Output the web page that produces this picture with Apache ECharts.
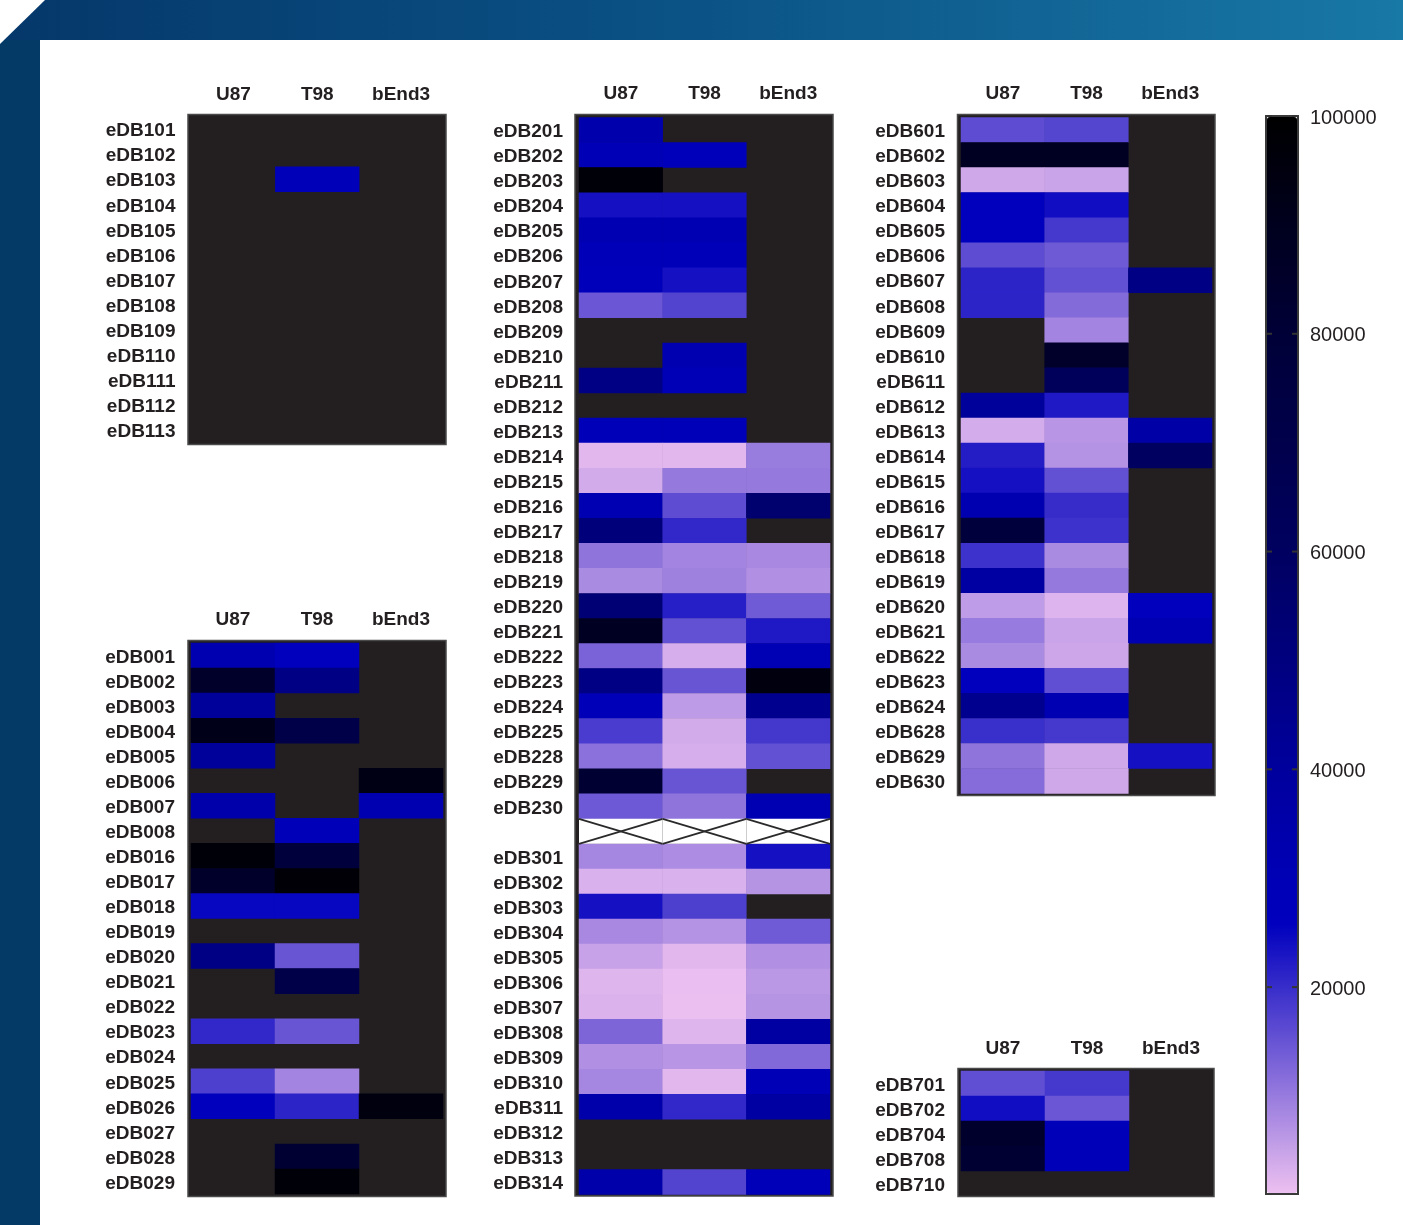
<!DOCTYPE html>
<html>
<head>
<meta charset="utf-8">
<title>eDB heatmap</title>
<script src="https://cdn.jsdelivr.net/npm/echarts@6/dist/echarts.min.js"></script>
<style>
  html, body { margin: 0; padding: 0; background: #fff; }
  #main { width: 1403px; height: 1225px; }
</style>
</head>
<body>
<div id="main"></div>
<script>
// columns of every panel
const cellLines = ["U87", "T98", "bEnd3"];

// panel eDB1xx
const rows1xx = ["eDB101", "eDB102", "eDB103", "eDB104", "eDB105", "eDB106", "eDB107",
  "eDB108", "eDB109", "eDB110", "eDB111", "eDB112", "eDB113"];
const values1xx = [
  [null, null, null], [null, null, null], [null, 28000, null], [null, null, null],
  [null, null, null], [null, null, null], [null, null, null], [null, null, null],
  [null, null, null], [null, null, null], [null, null, null], [null, null, null],
  [null, null, null],
];

// panel eDB0xx
const rows0xx = ["eDB001", "eDB002", "eDB003", "eDB004", "eDB005", "eDB006", "eDB007",
  "eDB008", "eDB016", "eDB017", "eDB018", "eDB019", "eDB020", "eDB021", "eDB022",
  "eDB023", "eDB024", "eDB025", "eDB026", "eDB027", "eDB028", "eDB029"];
const values0xx = [
  [32000, 26000, null],
  [85000, 48000, null],
  [41000, null, null],
  [92000, 72000, null],
  [41000, null, null],
  [null, null, 93000],
  [35000, null, 32000],
  [null, 28000, null],
  [97000, 77000, null],
  [85000, 98000, null],
  [25000, 25000, null],
  [null, null, null],
  [48000, 14800, null],
  [null, 72000, null],
  [null, null, null],
  [20500, 14800, null],
  [null, null, null],
  [17500, 8700, null],
  [26000, 21000, 95000],
  [null, null, null],
  [null, 82000, null],
  [null, 97000, null],
];

// panel eDB2xx / eDB3xx ("" is the crossed-out separator row)
const rowsMid = ["eDB201", "eDB202", "eDB203", "eDB204", "eDB205", "eDB206", "eDB207",
  "eDB208", "eDB209", "eDB210", "eDB211", "eDB212", "eDB213", "eDB214", "eDB215",
  "eDB216", "eDB217", "eDB218", "eDB219", "eDB220", "eDB221", "eDB222", "eDB223",
  "eDB224", "eDB225", "eDB228", "eDB229", "eDB230", "",
  "eDB301", "eDB302", "eDB303", "eDB304", "eDB305", "eDB306", "eDB307", "eDB308",
  "eDB309", "eDB310", "eDB311", "eDB312", "eDB313", "eDB314"];
const valuesMid = [
  [34000, null, null],
  [29000, 27000, null],
  [97000, null, null],
  [23500, 23500, null],
  [31000, 31500, null],
  [28000, 28000, null],
  [27000, 23500, null],
  [14500, 17000, null],
  [null, null, null],
  [null, 32500, null],
  [48000, 29000, null],
  [null, null, null],
  [28000, 28000, null],
  [2200, 2200, 9800],
  [3800, 10200, 10200],
  [31000, 15800, 55000],
  [51000, 20500, null],
  [10800, 8700, 8200],
  [7900, 9200, 7200],
  [53000, 21800, 14000],
  [88000, 15300, 22500],
  [13000, 3400, 30000],
  [48000, 14800, 95000],
  [28000, 5800, 45000],
  [18000, 3800, 18700],
  [11200, 3400, 15300],
  [82000, 14800, null],
  [14300, 10800, 31000],
  [null, null, null],
  [8500, 7600, 23500],
  [3000, 3000, 6700],
  [23500, 17500, null],
  [8200, 6900, 14000],
  [4900, 2200, 7200],
  [2400, 1200, 6200],
  [2800, 1100, 6700],
  [12700, 2400, 38000],
  [7200, 6500, 12200],
  [8500, 2200, 29000],
  [35000, 20500, 38000],
  [null, null, null],
  [null, null, null],
  [35000, 17000, 28000],
];

// panel eDB6xx
const rows6xx = ["eDB601", "eDB602", "eDB603", "eDB604", "eDB605", "eDB606", "eDB607",
  "eDB608", "eDB609", "eDB610", "eDB611", "eDB612", "eDB613", "eDB614", "eDB615",
  "eDB616", "eDB617", "eDB618", "eDB619", "eDB620", "eDB621", "eDB622", "eDB623",
  "eDB624", "eDB628", "eDB629", "eDB630"];
const values6xx = [
  [15800, 16800, null],
  [88000, 88000, null],
  [4100, 4600, null],
  [26000, 24000, null],
  [26000, 18500, null],
  [15800, 14200, null],
  [21000, 15300, 48000],
  [21000, 12000, null],
  [null, 8700, null],
  [null, 85000, null],
  [null, 63000, null],
  [41000, 22500, null],
  [3600, 6500, 36000],
  [22000, 6900, 60000],
  [23500, 15300, null],
  [32500, 20000, null],
  [77000, 19300, null],
  [19300, 7900, null],
  [38000, 10200, null],
  [5700, 2600, 26000],
  [9900, 4600, 31000],
  [7900, 4400, null],
  [26000, 15600, null],
  [45000, 31000, null],
  [19700, 18500, null],
  [10800, 4100, 23500],
  [11800, 4100, null],
];

// panel eDB7xx
const rows7xx = ["eDB701", "eDB702", "eDB704", "eDB708", "eDB710"];
const values7xx = [
  [15600, 18500, null],
  [24000, 14500, null],
  [84000, 28000, null],
  [82000, 28000, null],
  [null, null, null],
];

// colour bar
const scaleMin = 1000;
const scaleMax = 100000;
const scaleTicks = [20000, 40000, 60000, 80000, 100000];
const scaleColors = ["#ecc0f0", "#bd9ae6", "#8e73dc", "#5e4dd2", "#2f26c8", "#0000be",
  "#0000b4", "#0000a8", "#00009b", "#00008c", "#00007d", "#00006e", "#00005f", "#000055",
  "#00004b", "#000041", "#000037", "#00002a", "#00001e", "#00000f", "#000000"];

const textColor = "#231f20";
const missingColor = "#231f20";
const labelFont = "'Liberation Sans', Arial, Helvetica, sans-serif";

// grid = cell area, box = dark frame around it
const panels = [
  { rows: rows1xx, values: values1xx, grid: { left: 191.5, top: 116.5, width: 251.5, height: 326 }, headMargin: 12, box: [188, 114.5, 258, 330] },
  { rows: rows0xx, values: values0xx, grid: { left: 191, top: 643, width: 252, height: 551 }, headMargin: 13.5, box: [188, 640.5, 258, 556] },
  { rows: rowsMid, values: valuesMid, grid: { left: 579, top: 117.5, width: 251, height: 1077 }, headMargin: 14.5, box: [575, 114.5, 258, 1081.5] },
  { rows: rows6xx, values: values6xx, grid: { left: 961, top: 117.5, width: 251, height: 676 }, headMargin: 14.5, box: [957.5, 114.5, 257.5, 681] },
  { rows: rows7xx, values: values7xx, grid: { left: 961, top: 1071, width: 252, height: 125 }, headMargin: 12.5, box: [958, 1068.5, 256, 128] },
];

const toCells = (values) => {
  const out = [];
  values.forEach((row, r) => {
    row.forEach((v, c) => {
      if (v !== null) out.push([c, r, v]);
    });
  });
  return out;
};

const chart = echarts.init(document.getElementById("main"));

const grids = panels.map((p) => Object.assign({ containLabel: false }, p.grid));
grids.push({ left: 1266, top: 116, width: 32, height: 1078, show: true,
  borderColor: "#3a3a3a", borderWidth: 2, backgroundColor: "transparent" });

const xAxes = panels.map((p, i) => ({
  type: "category",
  gridIndex: i,
  data: cellLines,
  position: "top",
  axisLine: { show: false },
  axisTick: { show: false },
  splitLine: { show: false },
  axisLabel: {
    interval: 0, margin: p.headMargin, color: textColor,
    fontSize: 19, fontWeight: "bold", fontFamily: labelFont,
  },
}));
xAxes.push({ type: "value", gridIndex: 5, show: false, min: 0, max: 1 });

// row names are pushed 2px down through a rich style
const yAxes = panels.map((p, i) => ({
  type: "category",
  gridIndex: i,
  data: p.rows,
  inverse: true,
  axisLine: { show: false },
  axisTick: { show: false },
  splitLine: { show: false },
  axisLabel: {
    interval: 0, margin: 16,
    formatter: (v) => "{r|" + v + "}",
    rich: { r: { color: textColor, fontSize: 19, fontWeight: "bold", fontFamily: labelFont, padding: [4, 0, 0, 0] } },
  },
}));
// colour bar scale, labelled on the right
yAxes.push({
  type: "value", gridIndex: 5, position: "right", min: scaleMin, max: scaleMax,
  axisLine: { show: false },
  splitLine: { show: false },
  axisTick: { show: false },
  axisLabel: {
    customValues: scaleTicks, margin: 12,
    formatter: (v) => "{c|" + v + "}",
    rich: { c: { color: textColor, fontSize: 20, fontFamily: labelFont, padding: [4, 0, 0, 0] } },
  },
});

const series = panels.map((p, i) => ({
  type: "heatmap",
  xAxisIndex: i,
  yAxisIndex: i,
  data: toCells(p.values),
  itemStyle: { borderWidth: 0 },
  emphasis: { disabled: true },
}));

// crossed-out separator row in the middle panel
const crossRow = rowsMid.indexOf("");
series.push({
  type: "custom",
  xAxisIndex: 2,
  yAxisIndex: 2,
  data: cellLines.map((c, ci) => [ci, crossRow]),
  renderItem: (params, api) => {
    const center = api.coord([api.value(0), api.value(1)]);
    const size = api.size([1, 1]);
    const x0 = center[0] - size[0] / 2, x1 = center[0] + size[0] / 2;
    const y0 = center[1] - size[1] / 2, y1 = center[1] + size[1] / 2;
    const line = { stroke: "#2a2a2a", lineWidth: 1.8 };
    return {
      type: "group",
      children: [
        { type: "rect", shape: { x: x0, y: y0, width: x1 - x0, height: y1 - y0 }, style: { fill: "#fff" } },
        { type: "line", shape: { x1: x0, y1: y0, x2: x1, y2: y1 }, style: line },
        { type: "line", shape: { x1: x0, y1: y1, x2: x1, y2: y0 }, style: line },
      ],
    };
  },
});

// short tick marks on both inner edges of the colour bar, on a layer above it
series.push({
  type: "custom",
  xAxisIndex: 5,
  yAxisIndex: 5,
  zlevel: 1,
  silent: true,
  data: scaleTicks.map((v) => [0, v]),
  renderItem: (params, api) => {
    const a = api.coord([0, api.value(1)]);
    const b = api.coord([1, api.value(1)]);
    const st = { stroke: "#333", lineWidth: 2 };
    return {
      type: "group",
      children: [
        { type: "line", shape: { x1: a[0] + 1, y1: a[1], x2: a[0] + 6, y2: a[1] }, style: st },
        { type: "line", shape: { x1: b[0] - 6, y1: b[1], x2: b[0] - 1, y2: b[1] }, style: st },
      ],
    };
  },
});

const frames = panels.map((p) => ({
  type: "rect", z: 0, silent: true,
  shape: { x: p.box[0], y: p.box[1], width: p.box[2], height: p.box[3] },
  style: { fill: missingColor, stroke: "#4a4a4a", lineWidth: 1.5 },
}));

chart.setOption({
  backgroundColor: "#fff",
  animation: false,
  graphic: [
    {
      type: "rect", z: 0, silent: true,
      shape: { x: 0, y: 0, width: 1403, height: 40 },
      style: {
        fill: new echarts.graphic.LinearGradient(0, 0, 1, 0, [
          { offset: 0, color: "#05376a" },
          { offset: 0.5, color: "#0b5386" },
          { offset: 1, color: "#1878a6" },
        ]),
      },
    },
    { type: "rect", z: 0, silent: true, shape: { x: 0, y: 40, width: 40, height: 1185 }, style: { fill: "#043a66" } },
    { type: "polygon", z: 1, silent: true, shape: { points: [[0, 0], [45, 0], [0, 44]] }, style: { fill: "#fff" } },
  ].concat(frames),
  grid: grids,
  xAxis: xAxes,
  yAxis: yAxes,
  visualMap: {
    type: "continuous",
    seriesIndex: [0, 1, 2, 3, 4],
    min: scaleMin,
    max: scaleMax,
    calculable: false,
    left: 1267,
    top: 117,
    itemWidth: 30,
    itemHeight: 1076,
    padding: 0,
    text: null,
    showLabel: false,
    inRange: { color: scaleColors },
  },
  series: series,
});
</script>
</body>
</html>
